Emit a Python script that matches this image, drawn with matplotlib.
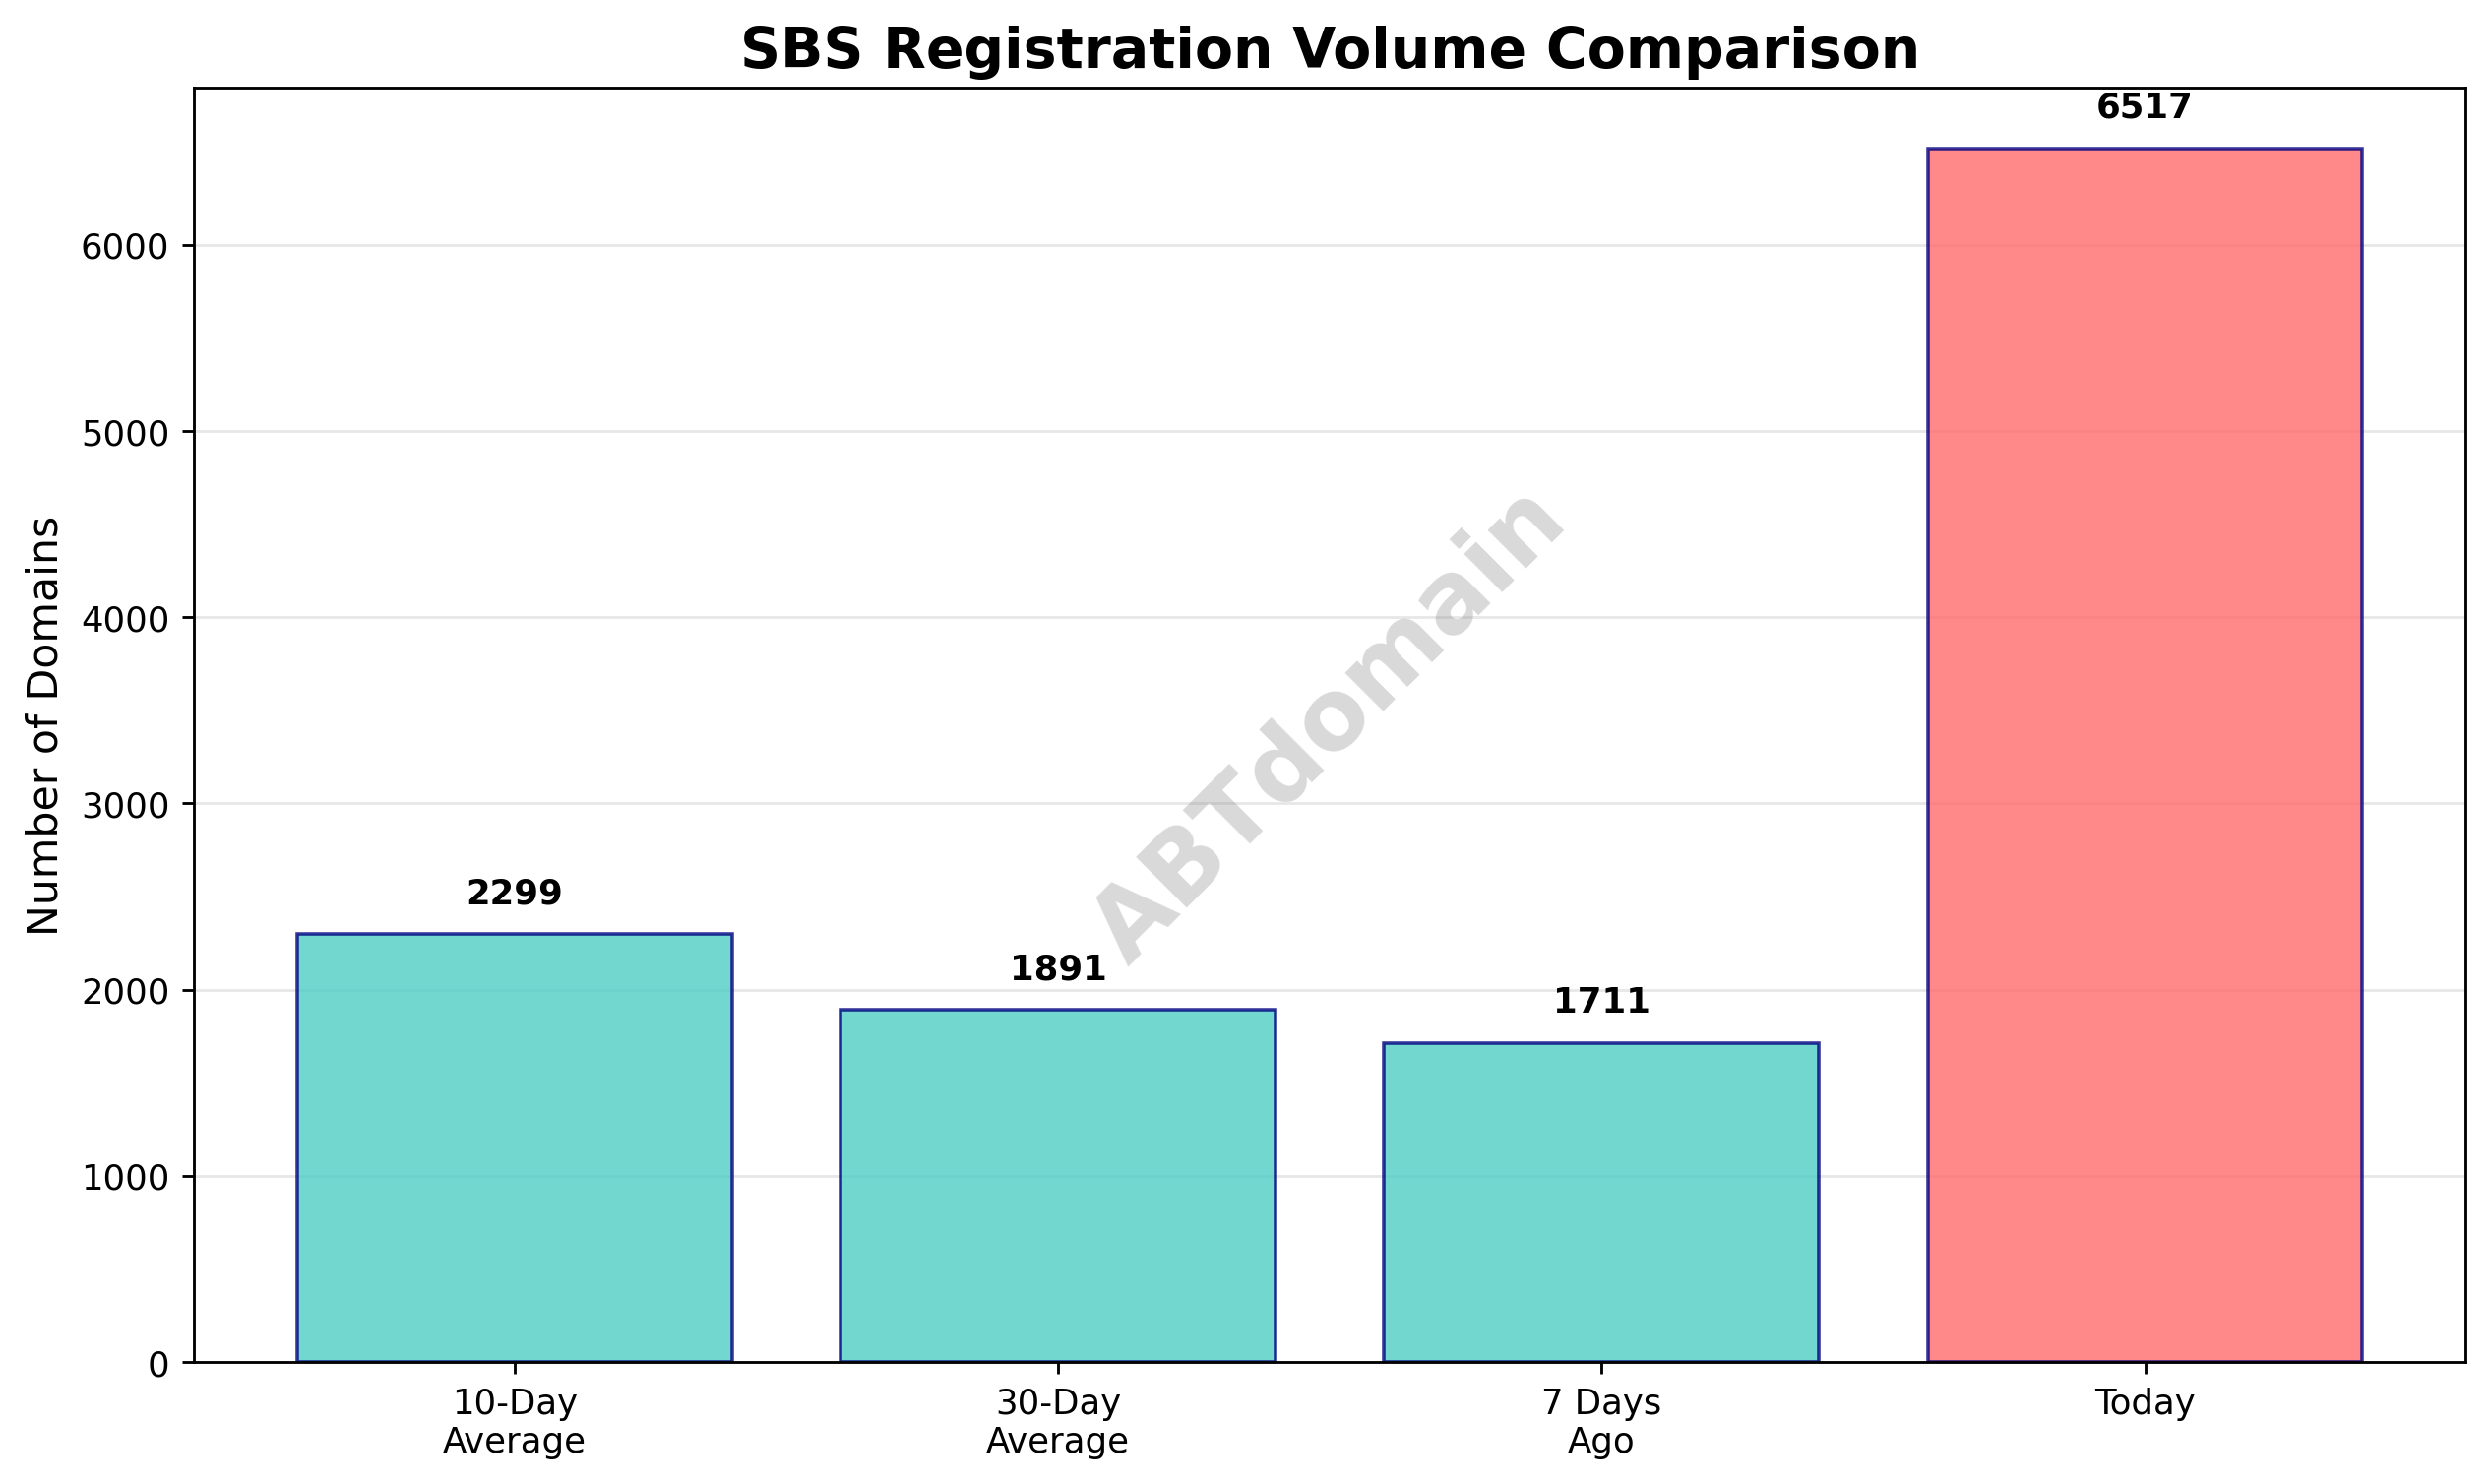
import matplotlib
matplotlib.use("Agg")
import matplotlib.pyplot as plt

categories = ["10-Day\nAverage", "30-Day\nAverage", "7 Days\nAgo", "Today"]
values = [2299, 1891, 1711, 6517]
colors = ["#4ECDC4", "#4ECDC4", "#4ECDC4", "#FF6B6B"]

fig, ax = plt.subplots(figsize=(10, 6))
bars = ax.bar(categories, values, color=colors, alpha=0.8, edgecolor="navy", linewidth=1)
for b, v in zip(bars, values):
    ax.text(b.get_x() + b.get_width() / 2, v + 130, str(v), ha="center", va="bottom",
            fontweight="bold", fontsize=10)
ax.set_title("SBS Registration Volume Comparison", fontsize=16, fontweight="bold")
ax.set_ylabel("Number of Domains", fontsize=12)
ax.grid(axis="y", alpha=0.3)
ax.set_axisbelow(True)
ax.text(0.5, 0.5, "ABTdomain", transform=ax.transAxes, fontsize=28, color="gray",
        alpha=0.3, rotation=45, ha="center", va="center", fontweight="bold")
plt.tight_layout()
fig.savefig("out.png", dpi=256, bbox_inches="tight")
